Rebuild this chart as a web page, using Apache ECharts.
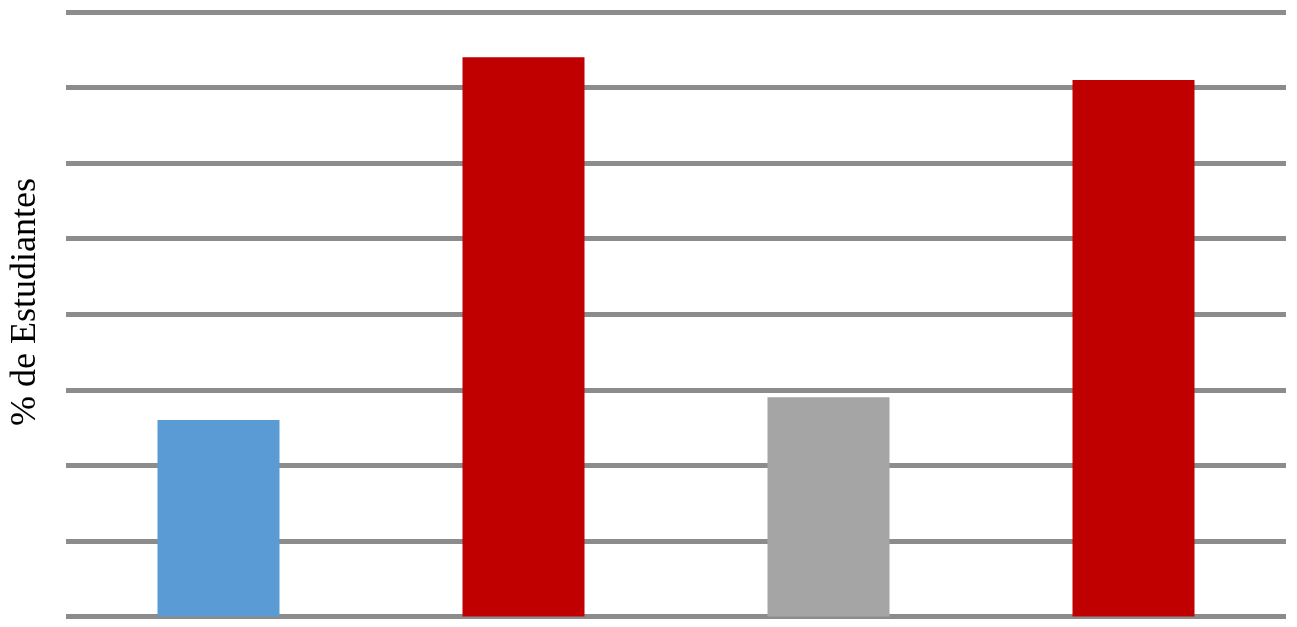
<!DOCTYPE html>
<html>
<head>
<meta charset="utf-8">
<script src="https://cdn.jsdelivr.net/npm/echarts@6/dist/echarts.min.js"></script>
<style>
html,body{margin:0;padding:0;background:#fff;}
#chart{width:1297px;height:627px;}
</style>
</head>
<body>
<div id="chart"></div>
<script>
const categories = ['A', 'B', 'C', 'D'];
const values = [13.0, 37.0, 14.5, 35.5];
const barColors = ['#5b9bd5', '#c00000', '#a5a5a5', '#c00000'];
const yTicks = [0, 5, 10, 15, 20, 25, 30, 35, 40];
const axisTitle = '% de Estudiantes';

const chart = echarts.init(document.getElementById('chart'));
chart.setOption({
  backgroundColor: '#ffffff',
  animation: false,
  grid: { left: 66, right: 11, top: 12, bottom: 10.5 },
  xAxis: {
    type: 'category',
    data: categories,
    axisLine: { show: false },
    axisTick: { show: false },
    axisLabel: { show: false }
  },
  yAxis: {
    type: 'value',
    min: yTicks[0],
    max: yTicks[yTicks.length - 1],
    interval: yTicks[1] - yTicks[0],
    axisLine: { show: false },
    axisTick: { show: false },
    axisLabel: { show: false },
    splitLine: { show: true, lineStyle: { color: '#8c8c8c', width: 5 } }
  },
  graphic: [{
    type: 'text',
    x: 26,
    y: 302,
    rotation: Math.PI / 2,
    style: {
      text: axisTitle,
      font: '36px "Liberation Serif", "Times New Roman", serif',
      fill: '#000',
      align: 'center',
      verticalAlign: 'middle'
    }
  }],
  series: [{
    type: 'bar',
    data: values.map((v, i) => ({ value: v, itemStyle: { color: barColors[i] } })),
    barWidth: '40%',
    z: 3
  }]
});
</script>
</body>
</html>
